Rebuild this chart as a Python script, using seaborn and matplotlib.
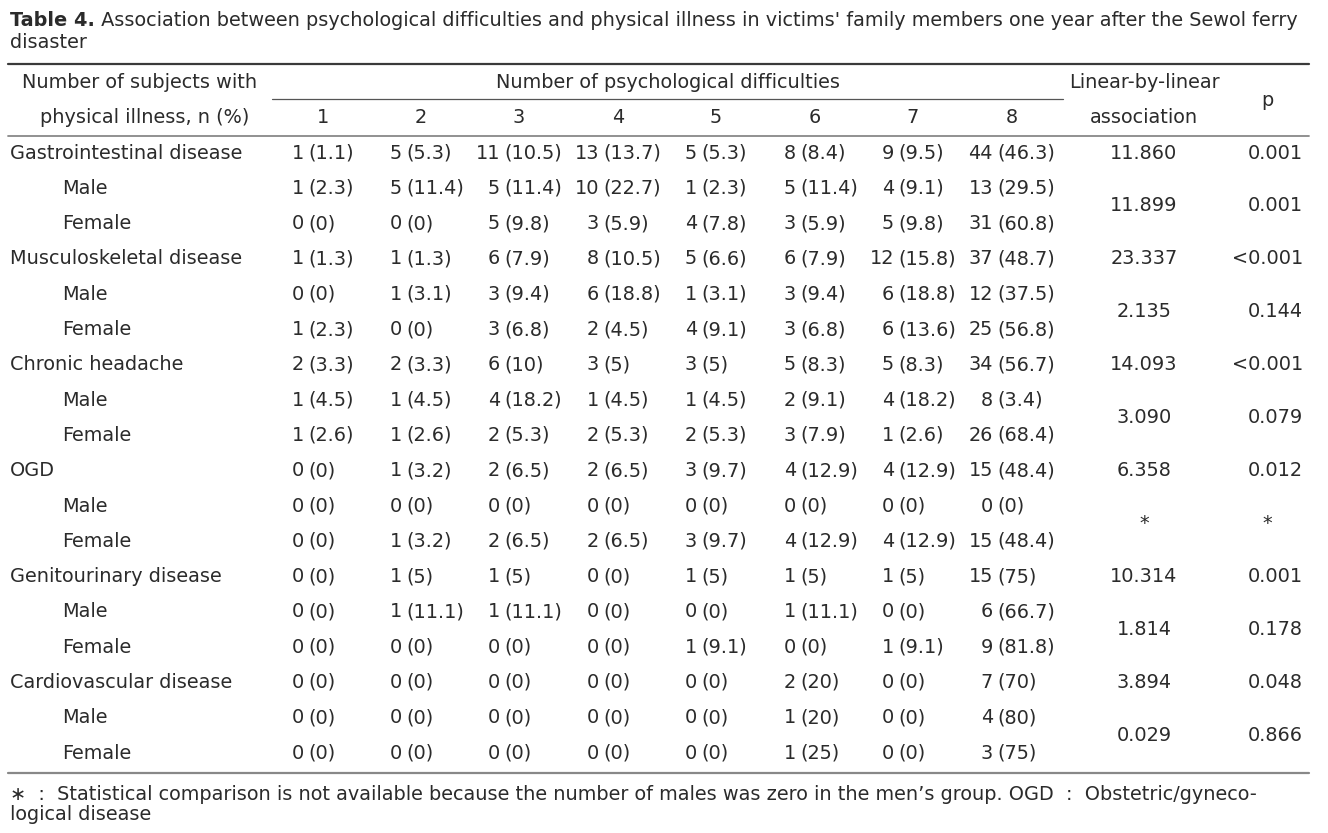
import seaborn as sns
import matplotlib.pyplot as plt

# table content
row_labels = ["Gastrointestinal disease", "Male", "Female",
              "Musculoskeletal disease", "Male", "Female",
              "Chronic headache", "Male", "Female",
              "OGD", "Male", "Female",
              "Genitourinary disease", "Male", "Female",
              "Cardiovascular disease", "Male", "Female"]
n_values = [
    [1, 5, 11, 13, 5, 8, 9, 44],
    [1, 5, 5, 10, 1, 5, 4, 13],
    [0, 0, 5, 3, 4, 3, 5, 31],
    [1, 1, 6, 8, 5, 6, 12, 37],
    [0, 1, 3, 6, 1, 3, 6, 12],
    [1, 0, 3, 2, 4, 3, 6, 25],
    [2, 2, 6, 3, 3, 5, 5, 34],
    [1, 1, 4, 1, 1, 2, 4, 8],
    [1, 1, 2, 2, 2, 3, 1, 26],
    [0, 1, 2, 2, 3, 4, 4, 15],
    [0, 0, 0, 0, 0, 0, 0, 0],
    [0, 1, 2, 2, 3, 4, 4, 15],
    [0, 1, 1, 0, 1, 1, 1, 15],
    [0, 1, 1, 0, 0, 1, 0, 6],
    [0, 0, 0, 0, 1, 0, 1, 9],
    [0, 0, 0, 0, 0, 2, 0, 7],
    [0, 0, 0, 0, 0, 1, 0, 4],
    [0, 0, 0, 0, 0, 1, 0, 3],
]
pct_values = [
    ["1.1", "5.3", "10.5", "13.7", "5.3", "8.4", "9.5", "46.3"],
    ["2.3", "11.4", "11.4", "22.7", "2.3", "11.4", "9.1", "29.5"],
    ["0", "0", "9.8", "5.9", "7.8", "5.9", "9.8", "60.8"],
    ["1.3", "1.3", "7.9", "10.5", "6.6", "7.9", "15.8", "48.7"],
    ["0", "3.1", "9.4", "18.8", "3.1", "9.4", "18.8", "37.5"],
    ["2.3", "0", "6.8", "4.5", "9.1", "6.8", "13.6", "56.8"],
    ["3.3", "3.3", "10", "5", "5", "8.3", "8.3", "56.7"],
    ["4.5", "4.5", "18.2", "4.5", "4.5", "9.1", "18.2", "3.4"],
    ["2.6", "2.6", "5.3", "5.3", "5.3", "7.9", "2.6", "68.4"],
    ["0", "3.2", "6.5", "6.5", "9.7", "12.9", "12.9", "48.4"],
    ["0", "0", "0", "0", "0", "0", "0", "0"],
    ["0", "3.2", "6.5", "6.5", "9.7", "12.9", "12.9", "48.4"],
    ["0", "5", "5", "0", "5", "5", "5", "75"],
    ["0", "11.1", "11.1", "0", "0", "11.1", "0", "66.7"],
    ["0", "0", "0", "0", "9.1", "0", "9.1", "81.8"],
    ["0", "0", "0", "0", "0", "20", "0", "70"],
    ["0", "0", "0", "0", "0", "20", "0", "80"],
    ["0", "0", "0", "0", "0", "25", "0", "75"],
]
# one statistic for the total row, one shared by the male/female pair
linear_stat = ["11.860", "11.899", "23.337", "2.135", "14.093", "3.090",
               "6.358", "*", "10.314", "1.814", "3.894", "0.029"]
p_values = ["0.001", "0.001", "<0.001", "0.144", "<0.001", "0.079",
            "0.012", "*", "0.001", "0.178", "0.048", "0.866"]
col_headers = ["1", "2", "3", "4", "5", "6", "7", "8"]

title_bold = "Table 4."
title_rest = (" Association between psychological difficulties and physical illness "
              "in victims' family members one year after the Sewol ferry")
title_line2 = "disaster"
footnote1 = ("\u2217  :  Statistical comparison is not available because the number of "
             "males was zero in the men\u2019s group. OGD  :  Obstetric/gyneco-")
footnote2 = "logical disease"

sns.set_theme(style="white")
plt.rcParams['font.family'] = ['DejaVu Sans']

TXT = "#2b2b2b"
FS = 13.9

fig = plt.figure(figsize=(13.28, 8.33), dpi=100)
ax = fig.add_axes([0, 0, 1, 1])
ax.set_xlim(0, 1328)
ax.set_ylim(833, 0)
ax.axis("off")

# title
tb = ax.text(10, 20, title_bold, fontsize=FS, fontweight="bold", color=TXT, va="center")
fig.canvas.draw()
bb = tb.get_window_extent().transformed(ax.transData.inverted())
ax.text(bb.x1, 20, title_rest, fontsize=FS, color=TXT, va="center")
ax.text(10, 42, title_line2, fontsize=FS, color=TXT, va="center")

# rules
ax.plot([8, 1309], [64, 64], color="#3a3a3a", lw=1.6)
ax.plot([272, 1063], [99, 99], color="#555555", lw=0.9)
ax.plot([8, 1309], [136, 136], color="#888888", lw=1.3)
ax.plot([8, 1309], [773, 773], color="#888888", lw=1.6)

# headers
col_x = [323, 421, 519, 618, 716, 815, 913, 1012]
ax.text(140, 82, "Number of subjects with", fontsize=FS, color=TXT, ha="center", va="center")
ax.text(145, 117, "physical illness, n (%)", fontsize=FS, color=TXT, ha="center", va="center")
ax.text(668, 82, "Number of psychological difficulties", fontsize=FS, color=TXT,
        ha="center", va="center")
for x, h in zip(col_x, col_headers):
    ax.text(x, 117, h, fontsize=FS, color=TXT, ha="center", va="center")
ax.text(1144, 82, "Linear-by-linear", fontsize=FS, color=TXT, ha="center", va="center")
ax.text(1144, 117, "association", fontsize=FS, color=TXT, ha="center", va="center")
ax.text(1267, 100, "p", fontsize=FS, color=TXT, ha="center", va="center")

# body
y0, dy = 153, 35.3
for i, label in enumerate(row_labels):
    y = y0 + i * dy
    indent = 62 if i % 3 else 10
    ax.text(indent, y, label, fontsize=FS, color=TXT, va="center")
    for j, x in enumerate(col_x):
        ax.text(x - 19, y, str(n_values[i][j]), fontsize=FS, color=TXT,
                ha="right", va="center")
        ax.text(x - 15, y, f"({pct_values[i][j]})", fontsize=FS, color=TXT,
                ha="left", va="center")

for k, (lin, p) in enumerate(zip(linear_stat, p_values)):
    grp = k // 2
    if k % 2 == 0:
        y = y0 + grp * 3 * dy
    else:
        y = y0 + (grp * 3 + 1.5) * dy
    ax.text(1144, y, lin, fontsize=FS, color=TXT, ha="center", va="center")
    if p == "*":
        ax.text(1267, y, p, fontsize=FS, color=TXT, ha="center", va="center")
    else:
        ax.text(1303, y, p, fontsize=FS, color=TXT, ha="right", va="center")

# footnote
ax.text(10, 795, footnote1, fontsize=FS, color=TXT, va="center")
ax.text(10, 815, footnote2, fontsize=FS, color=TXT, va="center")

fig.savefig("out.png", dpi=100, facecolor="white")
